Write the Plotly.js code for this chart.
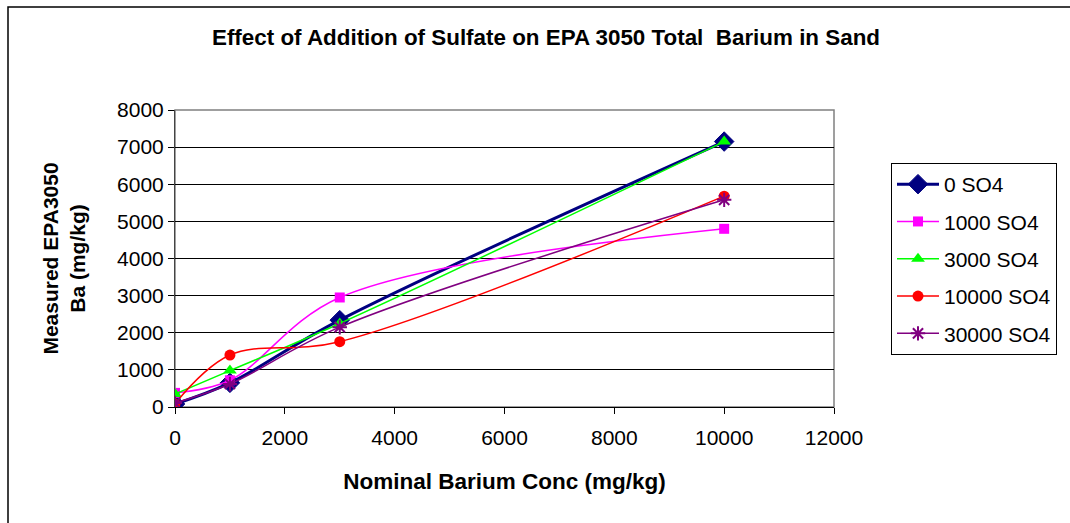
<!DOCTYPE html>
<html>
<head>
<meta charset="utf-8">
<script src="https://cdn.plot.ly/plotly-3.0.1.min.js"></script>
<style>html,body{margin:0;padding:0;background:#fff;}#chart{width:1070px;height:523px;}</style>
</head>
<body>
<div id="chart"></div>
<script>
var nominal = [0, 1000, 3000, 10000];
var seriesNames = ["0 SO4", "1000 SO4", "3000 SO4", "10000 SO4", "30000 SO4"];
var so4_0 = [80, 650, 2340, 7150];
var so4_1000 = [380, 720, 2950, 4800];
var so4_3000 = [350, 980, 2250, 7150];
var so4_10000 = [90, 1400, 1760, 5680];
var so4_30000 = [110, 620, 2150, 5580];
var xTicks = [0, 2000, 4000, 6000, 8000, 10000, 12000];
var yTicks = [0, 1000, 2000, 3000, 4000, 5000, 6000, 7000, 8000];

var colors = ["#000080", "#FF00FF", "#00FF00", "#FF0000", "#800080"];
var symbols = ["diamond", "square", "triangle-up", "circle", "asterisk-open"];
var sizes = [15, 10, 12, 11, 12];
var widths = [3, 1.5, 1.5, 1.5, 1.5];
var vals = [so4_0, so4_1000, so4_3000, so4_10000, so4_30000];

var traces = vals.map(function (v, i) {
  var m = {symbol: symbols[i], size: sizes[i], color: colors[i]};
  if (i === 4) { m.line = {color: colors[i], width: 2}; }
  else if (i === 0) { m.line = {color: colors[i], width: 1}; }
  else { m.line = {width: 0}; }
  return {
    x: nominal, y: v, name: seriesNames[i], type: "scatter", mode: "lines+markers",
    line: {color: colors[i], width: widths[i], shape: "spline", smoothing: 1},
    marker: m, legendgroup: "g" + i
  };
});

var F = "Liberation Sans, Arial, sans-serif";
var L = 175, R = 834, T = 110, B = 407, W = 1070, H = 523;
var pw = R - L, ph = B - T;

var layout = {
  width: W, height: H,
  margin: {l: L, r: W - R, t: T, b: H - B, pad: 0},
  paper_bgcolor: "#ffffff", plot_bgcolor: "#ffffff",
  font: {family: F, color: "#000"},
  title: {text: "<b>Effect of Addition of Sulfate on EPA 3050 Total  Barium in Sand</b>",
          font: {family: F, size: 22.4, color: "#000"}, x: (546 - L) / pw, xref: "paper", xanchor: "center",
          y: 1 - 37 / H, yref: "container", yanchor: "middle"},
  xaxis: {range: [0, 12000], tickvals: xTicks, ticktext: xTicks.map(String),
          showgrid: false, zeroline: false, showline: true, linecolor: "#000", linewidth: 1,
          ticks: "outside", ticklen: 6, tickcolor: "#000", tickfont: {size: 21, family: F},
          ticklabelstandoff: 6,
          title: {text: "<b>Nominal Barium Conc (mg/kg)</b>", font: {size: 22.5, family: F}, standoff: 25}},
  yaxis: {range: [0, 8000], tickvals: yTicks, ticktext: yTicks.map(String),
          showgrid: true, gridcolor: "#000", gridwidth: 1, zeroline: false,
          showline: true, linecolor: "#444", linewidth: 1,
          ticks: "outside", ticklen: 6, tickcolor: "#000", tickfont: {size: 21, family: F},
          title: {text: "<b>Measured EPA3050<br>Ba (mg/kg)</b>", font: {size: 21, family: F}, standoff: 25}},
  legend: {x: (891 - L) / pw, y: (B - 163) / ph, xanchor: "left", yanchor: "top",
           bordercolor: "#000", borderwidth: 1, bgcolor: "#fff", itemwidth: 42,
           font: {size: 21, family: F}, tracegroupgap: 7, traceorder: "grouped"},
  showlegend: true,
  shapes: [
    {type: "rect", xref: "paper", yref: "paper", x0: 0, x1: 1, y0: 0, y1: 1,
     line: {color: "#808080", width: 1.5}, layer: "below"},
    {type: "rect", xref: "paper", yref: "paper", x0: (8 - L) / pw, x1: (1080 - L) / pw,
     y0: (B - 540) / ph, y1: (B - 7) / ph, line: {color: "#000", width: 1.5}, layer: "below"}
  ]
};

Plotly.newPlot("chart", traces, layout, {displayModeBar: false, staticPlot: true});
</script>
</body>
</html>
